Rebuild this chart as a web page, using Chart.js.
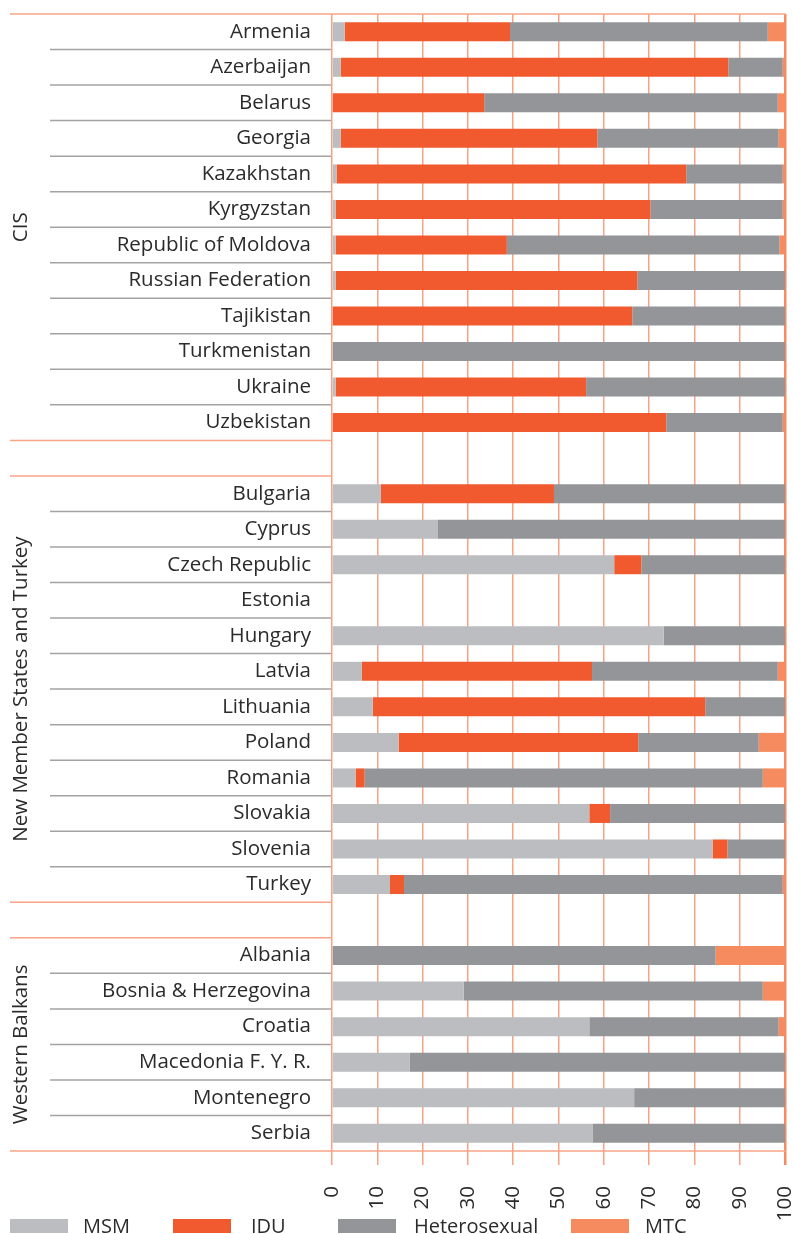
<!DOCTYPE html>
<html>
<head>
<meta charset="utf-8">
<script src="https://cdn.jsdelivr.net/npm/chart.js@4/dist/chart.umd.min.js"></script>
<style>
  html, body { margin: 0; padding: 0; background: #fff; }
  #wrap { position: relative; width: 793px; height: 1234px; overflow: hidden; }
  canvas { position: absolute; left: 0; top: 0; }
  .lg { position: absolute; top: 1212px; height: 28px; font-family: "Open Sans", sans-serif; font-size: 20px; color: #2b2b2b; line-height: 28px; }
  .lg .sw { position: absolute; top: 7px; width: 58px; height: 14px; }
  .lg .tx { position: absolute; top: 0; white-space: nowrap; }
</style>
</head>
<body>
<div id="wrap">
  <canvas id="c" width="793" height="1234"></canvas>
  <div id="legend"></div>
</div>
<script>
// ---- data ----
const categories = [
  'Armenia','Azerbaijan','Belarus','Georgia','Kazakhstan','Kyrgyzstan','Republic of Moldova','Russian Federation','Tajikistan','Turkmenistan','Ukraine','Uzbekistan',
  '',
  'Bulgaria','Cyprus','Czech Republic','Estonia','Hungary','Latvia','Lithuania','Poland','Romania','Slovakia','Slovenia','Turkey',
  '',
  'Albania','Bosnia & Herzegovina','Croatia','Macedonia F. Y. R.','Montenegro','Serbia'
];
const groupNames = ['CIS', 'New Member States and Turkey', 'Western Balkans'];
const seriesNames = ['MSM', 'IDU', 'Heterosexual', 'MTC'];

const msm = [2.8,1.9,0,1.9,1.0,0.8,0.8,0.8,0,0,0.8,0,
  null,
  10.8,23.4,62.3,null,73.2,6.6,9.0,14.7,5.2,56.8,84.0,12.8,
  null,
  0,29.1,56.8,17.2,66.7,57.6];
const idu = [36.5,85.6,33.6,56.7,77.2,69.5,37.8,66.6,66.3,0,55.3,73.8,
  null,
  38.2,0,6.0,null,0,50.8,73.4,52.9,2.0,4.6,3.3,3.1,
  null,
  0,0,0,0,0,0];
const hetero = [56.9,12.0,64.8,40.0,21.3,29.2,60.2,32.6,33.7,100,43.9,25.7,
  null,
  51.0,76.6,31.7,null,26.8,41.0,17.6,26.6,87.9,38.6,12.7,83.6,
  null,
  84.7,66.0,41.8,82.8,33.3,42.4];
const mtc = [3.8,0.5,1.6,1.4,0.5,0.5,1.2,0,0,0,0,0.5,
  null,
  0,0,0,null,0,1.6,0,5.8,4.9,0,0,0.5,
  null,
  15.3,4.9,1.4,0,0,0];
const xTicks = [0,10,20,30,40,50,60,70,80,90,100];

// ---- styles ----
const colors = ['#bcbdc0', '#f15a2f', '#949598', '#f58b5f'];
const gridOrange = '#f6a283';
const lineOrange = '#f7a586';
const sepGray = '#a3a3a3';
const textColor = '#2b2b2b';
const FONT = '"Open Sans", sans-serif';
const FSIZE = 20.5;

// legend (HTML)
const legendPos = [[10, 83], [173, 251], [338, 414], [571, 645]];
const lg = document.getElementById('legend');
seriesNames.forEach((n, i) => {
  const d = document.createElement('div');
  d.className = 'lg';
  d.style.left = '0px';
  d.innerHTML = '<div class="sw" style="left:' + legendPos[i][0] + 'px;background:' + colors[i] + '"></div>' +
                '<div class="tx" style="left:' + legendPos[i][1] + 'px">' + n + '</div>';
  lg.appendChild(d);
});

// group ranges from blank separators
function groupRanges() {
  const r = []; let s = 0;
  categories.forEach((c, i) => {
    if (c === '') { r.push([s, i - 1]); s = i + 1; }
  });
  r.push([s, categories.length - 1]);
  return r;
}

const decor = {
  id: 'decor',
  afterDraw(chart) {
    const ctx = chart.ctx;
    const y = chart.scales.y;
    const ca = chart.chartArea;
    const n = categories.length;
    const step = (ca.bottom - ca.top) / n;
    const bound = k => ca.top + k * step;
    ctx.save();
    // gray row separators in label area
    ctx.lineWidth = 1.5;
    ctx.strokeStyle = sepGray;
    for (let k = 1; k < n; k++) {
      if (categories[k] === '' || categories[k - 1] === '') continue;
      const yy = bound(k);
      ctx.beginPath(); ctx.moveTo(50, yy); ctx.lineTo(ca.left - 1, yy); ctx.stroke();
    }
    // orange group boundaries
    ctx.strokeStyle = lineOrange;
    ctx.lineWidth = 1.5;
    for (let k = 0; k < n; k++) {
      if (categories[k] === '') {
        [bound(k), bound(k + 1)].forEach(yy => {
          ctx.beginPath(); ctx.moveTo(10, yy); ctx.lineTo(ca.left - 1, yy); ctx.stroke();
        });
      }
    }
    // top and bottom lines full width
    [ca.top, ca.bottom].forEach(yy => {
      ctx.beginPath(); ctx.moveTo(10, yy); ctx.lineTo(ca.right + 1, yy); ctx.stroke();
    });
    // group labels
    ctx.fillStyle = textColor;
    ctx.font = FSIZE + 'px ' + FONT;
    ctx.textAlign = 'center';
    ctx.textBaseline = 'middle';
    groupRanges().forEach((g, i) => {
      const yc = (y.getPixelForValue(g[0]) + y.getPixelForValue(g[1])) / 2;
      ctx.save();
      ctx.translate(21, yc);
      ctx.rotate(-Math.PI / 2);
      ctx.fillText(groupNames[i], 0, 0);
      ctx.restore();
    });
    ctx.restore();
  }
};

const datasets = [msm, idu, hetero, mtc].map((d, i) => ({
  label: seriesNames[i],
  data: d,
  backgroundColor: colors[i],
  borderWidth: 0,
  categoryPercentage: 1,
  barPercentage: 0.535
}));

function zeroPad(s) { s.paddingLeft = 0; s.paddingRight = 0; s.paddingTop = 0; s.paddingBottom = 0; }

new Chart(document.getElementById('c'), {
  type: 'bar',
  data: { labels: categories, datasets },
  plugins: [decor],
  options: {
    indexAxis: 'y',
    responsive: false,
    animation: false,
    devicePixelRatio: 1,
    layout: { padding: { left: 0, right: 8, top: 14, bottom: 0 } },
    plugins: { legend: { display: false }, tooltip: { enabled: false } },
    scales: {
      x: {
        stacked: true,
        min: 0, max: 100,
        afterBuildTicks: s => { s.ticks = xTicks.map(v => ({ value: v })); },
        afterFit: s => { s.height = 83; zeroPad(s); },
        grid: {
          color: ctx => ctx.index === 10 ? '#f58b5f' : gridOrange,
          lineWidth: ctx => ctx.index === 10 ? 2.5 : 1.5,
          drawTicks: true,
          tickLength: 14
        },
        border: { display: false },
        ticks: {
          minRotation: 90, maxRotation: 90,
          padding: 21,
          color: textColor,
          font: { family: FONT, size: FSIZE }
        }
      },
      y: {
        stacked: true,
        afterFit: s => { s.width = 332; zeroPad(s); },
        grid: { display: false, drawTicks: false },
        border: { display: false },
        ticks: {
          padding: 21,
          autoSkip: false,
          color: textColor,
          font: { family: FONT, size: FSIZE }
        }
      }
    }
  }
});
</script>
</body>
</html>
